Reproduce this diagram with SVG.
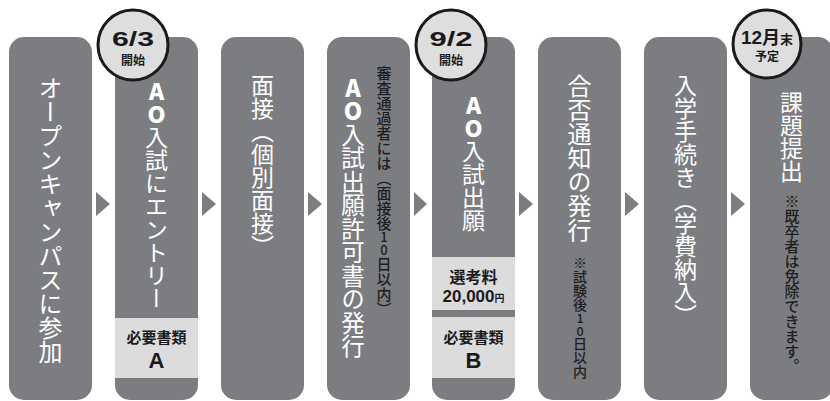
<svg xmlns="http://www.w3.org/2000/svg" width="830" height="401" viewBox="0 0 830 401">
<style>
.box{fill:#7c7d81}
.panel{fill:#dcdcdd}
.arrow{fill:#7c7d81}
.circ{fill:#dedede;stroke:#1a1a1a;stroke-width:3}
.v{font-family:"Noto Sans CJK JP","Noto Sans",sans-serif;writing-mode:vertical-rl;fill:#ffffff}
.up{text-orientation:upright}
.note{fill:#1e1e1e;font-weight:500}
.ao{font-weight:900;font-family:"Noto Sans CJK JP",sans-serif}
.lbl{font-family:"Noto Sans CJK JP","Noto Sans",sans-serif;font-weight:bold;fill:#1a1a1a;text-anchor:middle}
.num{font-family:"Liberation Sans","Noto Sans CJK JP",sans-serif;font-weight:bold;fill:#1a1a1a;text-anchor:middle}
</style>
<g id="connectors">
<polygon class="arrow" points="96,192 96,216 110,204"/>
<polygon class="arrow" points="202,192 202,216 216,204"/>
<polygon class="arrow" points="308,192 308,216 322,204"/>
<polygon class="arrow" points="414,192 414,216 427,204"/>
<polygon class="arrow" points="519,192 519,216 533,204"/>
<polygon class="arrow" points="625,192 625,216 639,204"/>
<polygon class="arrow" points="731,192 731,216 745,204"/>
</g>
<g id="node1">
<rect class="box" x="9" y="37" width="83" height="363" rx="15"/>
<text class="v" x="50.5" y="76" font-size="24">オープンキャンパスに参加</text>
</g>
<g id="node2">
<rect class="box" x="115" y="37" width="83" height="363" rx="15"/>
<text class="v up" x="156.5" y="80" font-size="23"><tspan class="ao">AO</tspan>入試にエントリー</text>
<rect class="panel" x="115" y="318" width="83" height="60"/>
<text class="lbl" x="156.5" y="343" font-size="15">必要書類</text>
<text class="num" x="156.5" y="368" font-size="22">A</text>
<circle class="circ" cx="133" cy="45" r="35"/>
<text class="num" x="133" y="46" font-size="21" textLength="42" lengthAdjust="spacingAndGlyphs">6/3</text>
<text class="lbl" x="133" y="65" font-size="12">開始</text>
</g>
<g id="node3">
<rect class="box" x="221" y="37" width="83" height="363" rx="15"/>
<text class="v" x="262.5" y="74" font-size="23">面接（個別面接）</text>
</g>
<g id="node4">
<rect class="box" x="327" y="37" width="83" height="363" rx="15"/>
<text class="v up" x="353" y="76" font-size="23.5"><tspan class="ao">AO</tspan>入試出願許可書の発行</text>
<text class="v note" x="384" y="66" font-size="15">審査通過者には（面接後</text>
<text class="v up note" x="384" y="231" font-size="13">10</text>
<text class="v note" x="384" y="257" font-size="15">日以内）</text>
</g>
<g id="node5">
<rect class="box" x="432" y="37" width="83" height="363" rx="15"/>
<text class="v up" x="473.5" y="94" font-size="23"><tspan class="ao">AO</tspan>入試出願</text>
<rect class="panel" x="432" y="257" width="83" height="53"/>
<text class="lbl" x="473.5" y="283" font-size="16">選考料</text>
<text class="num" x="473.5" y="302"><tspan font-size="17">20,000</tspan><tspan font-size="10" font-family="Noto Sans CJK JP">円</tspan></text>
<rect class="panel" x="432" y="317" width="83" height="61"/>
<text class="lbl" x="473.5" y="343" font-size="15">必要書類</text>
<text class="num" x="473.5" y="368" font-size="22">B</text>
<circle class="circ" cx="451" cy="45" r="35"/>
<text class="num" x="451" y="46" font-size="21" textLength="43" lengthAdjust="spacingAndGlyphs">9/2</text>
<text class="lbl" x="451" y="65" font-size="12">開始</text>
</g>
<g id="node6">
<rect class="box" x="538" y="37" width="83" height="363" rx="15"/>
<text class="v" x="579.5" y="74" font-size="24">合否通知の発行</text>
<text class="v note" x="580" y="256" font-size="14">※試験後</text>
<text class="v up note" x="580" y="312" font-size="12.5">10</text>
<text class="v note" x="580" y="337" font-size="14">日以内</text>
</g>
<g id="node7">
<rect class="box" x="644" y="37" width="83" height="363" rx="15"/>
<text class="v" x="685.5" y="74" font-size="23">入学手続き（学費納入）</text>
</g>
<g id="node8">
<rect class="box" x="750" y="37" width="83" height="363" rx="15"/>
<text class="v" x="791.5" y="91" font-size="23">課題提出</text>
<text class="v note" x="792" y="194" font-size="15">※既卒者は免除できます。</text>
<circle class="circ" cx="767" cy="44" r="34"/>
<text class="num" x="767" y="44"><tspan font-size="19">12</tspan><tspan font-size="18" font-family="Noto Sans CJK JP">月</tspan><tspan font-size="13" font-family="Noto Sans CJK JP">末</tspan></text>
<text class="lbl" x="767" y="61" font-size="12">予定</text>
</g>
</svg>
